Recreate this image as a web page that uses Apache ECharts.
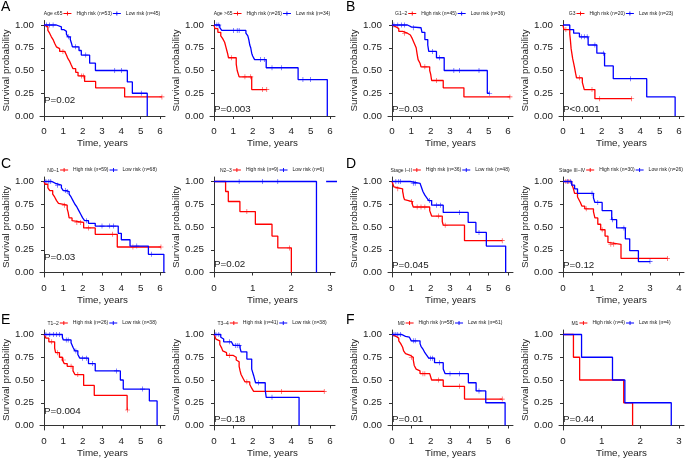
<!DOCTYPE html>
<html>
<head>
<meta charset="utf-8">
<script src="https://cdn.jsdelivr.net/npm/echarts@6/dist/echarts.min.js"></script>
<style>
  html, body { margin: 0; padding: 0; background: #fff; }
  #main { width: 692px; height: 461px; }
</style>
</head>
<body>
<div id="main"></div>
<script>
// ---- data: KM step curves [time, survival] and censor times ----
// A: age
const ageLeHigh = [[0,1],[0.1,0.98],[0.2,0.94],[0.29,0.91],[0.38,0.87],[0.47,0.84],[0.55,0.8],[0.64,0.76],[0.72,0.74],[0.81,0.71],[1.07,0.69],[1.16,0.67],[1.24,0.63],[1.33,0.6],[1.41,0.56],[1.5,0.52],[1.64,0.48],[1.76,0.44],[2.1,0.38],[2.67,0.31],[4.17,0.21]];
const ageLeHighCens = [0.98,1.93,2.03,6.1];
const ageLeLow = [[0,1],[0.64,0.98],[0.9,0.95],[1.02,0.93],[1.16,0.9],[1.24,0.87],[1.36,0.84],[1.42,0.8],[1.47,0.76],[1.81,0.72],[1.93,0.67],[2.36,0.58],[2.66,0.5],[4.31,0.375],[4.57,0.25],[5.34,0]];
const ageLeLowCens = [0.12,0.29,0.47,1.28,1.64,2.16,3.66,4.0,5.03];
const ageGtHigh = [[0,1],[0.05,0.96],[0.2,0.92],[0.35,0.88],[0.45,0.85],[0.55,0.81],[0.6,0.77],[0.7,0.69],[0.75,0.64],[1.15,0.57],[1.2,0.5],[1.3,0.43],[1.95,0.29]];
const ageGtHighCens = [0.9,1.6,1.9,2.5,2.73];
const ageGtLow = [[0,1],[0.3,0.97],[0.4,0.94],[1.65,0.91],[1.75,0.88],[1.8,0.84],[1.85,0.78],[1.9,0.75],[1.95,0.69],[2.0,0.66],[2.1,0.62],[2.7,0.53],[4.35,0.4],[5.86,0]];
const ageGtLowCens = [0.15,0.25,1.0,1.2,1.3,2.4,2.6,3.0,3.5,4.6,5.0];
// B: grade
const g12High = [[0,1],[0.1,0.98],[0.2,0.96],[0.35,0.93],[0.55,0.91],[0.8,0.89],[0.95,0.87],[1.05,0.85],[1.15,0.8],[1.25,0.75],[1.3,0.68],[1.35,0.62],[1.45,0.58],[1.5,0.54],[1.95,0.5],[2.0,0.46],[2.05,0.39],[2.65,0.31],[3.72,0.21]];
const g12HighCens = [0.65,1.7,2.3,6.1];
const g12Low = [[0,1],[0.8,0.98],[1.0,0.97],[1.5,0.95],[1.55,0.92],[1.7,0.84],[1.85,0.78],[1.9,0.71],[2.3,0.64],[2.7,0.5],[4.93,0.25]];
const g12LowCens = [0.1,0.3,0.5,0.65,1.1,2.1,2.45,3.2,3.5,4.5,5.05];
const g3High = [[0,1],[0.05,0.95],[0.35,0.9],[0.38,0.84],[0.42,0.74],[0.5,0.63],[0.55,0.58],[0.6,0.53],[0.65,0.47],[0.7,0.42],[1.0,0.37],[1.1,0.29],[1.65,0.19]];
const g3HighCens = [0.15,0.85,1.5,1.9,3.55];
const g3Low = [[0,1],[0.35,0.95],[0.55,0.91],[0.85,0.87],[1.3,0.78],[1.75,0.69],[2.15,0.55],[2.6,0.41],[4.33,0.21],[5.8,0]];
const g3LowCens = [0.95,1.1,1.25,1.65,2.1,3.5];
// C: N stage
const n01High = [[0,1],[0.05,0.97],[0.2,0.93],[0.3,0.9],[0.45,0.86],[0.55,0.83],[0.65,0.79],[0.75,0.76],[0.85,0.74],[1.2,0.7],[1.25,0.66],[1.3,0.6],[1.45,0.57],[1.5,0.55],[2.05,0.49],[2.65,0.42],[3.79,0.28]];
const n01HighCens = [1.05,1.7,1.9,2.3,3.55,4.6,6.05];
const n01Low = [[0,1],[0.4,0.98],[0.6,0.96],[0.9,0.93],[1.0,0.9],[1.15,0.89],[1.3,0.86],[1.4,0.83],[1.5,0.79],[1.6,0.75],[1.7,0.72],[1.8,0.68],[1.9,0.64],[2.0,0.6],[2.1,0.57],[2.3,0.54],[2.65,0.51],[3.84,0.43],[4.0,0.36],[4.45,0.29],[5.4,0.2],[6.2,0]];
const n01LowCens = [0.1,0.25,0.35,0.7,1.1,1.2,2.2,3.0,3.4,3.6,4.8,5.57];
const n23High = [[0,1],[0.3,0.89],[0.37,0.78],[0.67,0.67],[1.07,0.53],[1.5,0.4],[1.65,0.27],[2.0,0]];
const n23HighCens = [0.85,1.95];
const n23Low = [[0,1],[2.65,0]];
const n23LowCens = [0.65,1.25,1.65];
const n23LowTail = [[2.9,1],[3.2,1]];   // stray low-risk segment right of the panel
// D: stage
const st12High = [[0,1],[0.05,0.97],[0.1,0.94],[0.15,0.92],[0.55,0.89],[0.58,0.86],[0.6,0.83],[0.65,0.8],[0.75,0.78],[1.05,0.75],[1.1,0.72],[1.95,0.68],[2.05,0.62],[2.6,0.56],[2.65,0.52],[3.75,0.35]];
const st12HighCens = [0.3,1.0,1.3,1.5,1.7,2.4,2.75,5.7];
const st12Low = [[0,1],[0.95,0.98],[1.45,0.97],[1.5,0.95],[1.6,0.89],[1.7,0.85],[1.8,0.82],[1.9,0.79],[2.05,0.74],[2.65,0.66],[3.94,0.55],[4.34,0.44],[4.88,0.29],[5.88,0]];
const st12LowCens = [0.2,0.35,0.45,1.1,1.2,1.95,2.3,2.5,3.5,4.5];
const st34High = [[0,1],[0.3,0.97],[0.35,0.93],[0.4,0.87],[0.5,0.83],[0.55,0.8],[0.6,0.77],[0.65,0.73],[0.75,0.7],[1.05,0.67],[1.1,0.6],[1.2,0.53],[1.3,0.47],[1.45,0.4],[1.55,0.33],[1.6,0.31],[2.0,0.155]];
const st34HighCens = [0.1,0.2,0.8,1.35,1.65,1.75,3.6];
const st34Low = [[0,1],[0.3,0.96],[0.4,0.92],[0.5,0.87],[1.05,0.82],[1.1,0.77],[1.35,0.68],[1.68,0.58],[1.85,0.49],[2.15,0.37],[2.3,0.24],[2.6,0.12]];
const st34LowCens = [0.15,0.25,1.0,1.2,1.7,2.1,3.0];
// E: T stage
const t12High = [[0,1],[0.1,0.96],[0.25,0.92],[0.55,0.85],[0.6,0.8],[0.8,0.75],[0.95,0.72],[1.05,0.68],[1.2,0.65],[1.5,0.6],[1.6,0.56],[2.05,0.44],[2.6,0.33],[4.3,0.17]];
const t12HighCens = [0.4,0.7,1.0,1.4,1.75,4.32];
const t12Low = [[0,1],[0.95,0.97],[1.0,0.94],[1.4,0.91],[1.5,0.86],[1.6,0.82],[1.75,0.78],[1.85,0.74],[2.3,0.68],[2.65,0.6],[3.95,0.5],[4.1,0.4],[5.45,0.27],[5.85,0]];
const t12LowCens = [0.1,0.3,0.5,0.65,0.8,1.15,1.25,1.65,2.0,2.2,2.5,3.75,5.1];
const t34High = [[0,1],[0.05,0.98],[0.1,0.95],[0.2,0.93],[0.3,0.89],[0.4,0.85],[0.45,0.82],[0.55,0.8],[0.65,0.77],[1.0,0.75],[1.15,0.72],[1.2,0.7],[1.3,0.65],[1.35,0.6],[1.4,0.56],[1.5,0.52],[1.6,0.48],[1.85,0.45],[1.95,0.41],[2.05,0.375]];
const t34HighCens = [0.8,1.7,3.5,5.7];
const t34Low = [[0,1],[0.35,0.97],[0.4,0.95],[0.5,0.92],[0.9,0.9],[1.0,0.88],[1.35,0.85],[1.4,0.81],[1.7,0.73],[1.95,0.62],[2.05,0.55],[2.15,0.47],[2.65,0.39],[2.7,0.31],[4.4,0]];
const t34LowCens = [0.1,0.25,0.8,1.1,1.2,1.3,2.3,3.0];
// F: M stage
const m0High = [[0,1],[0.05,0.98],[0.2,0.96],[0.35,0.93],[0.45,0.9],[0.55,0.86],[0.6,0.82],[0.7,0.79],[0.8,0.77],[0.95,0.75],[1.1,0.72],[1.15,0.66],[1.25,0.62],[1.35,0.6],[1.45,0.57],[1.95,0.55],[2.05,0.5],[2.65,0.43],[3.75,0.29]];
const m0HighCens = [1.0,1.6,1.7,2.4,3.5,5.7];
const m0Low = [[0,1],[0.5,0.98],[0.7,0.97],[0.9,0.95],[1.0,0.93],[1.45,0.9],[1.5,0.87],[1.6,0.84],[1.7,0.8],[1.8,0.77],[1.9,0.74],[2.2,0.69],[2.65,0.62],[2.75,0.57],[3.95,0.47],[4.35,0.38],[4.85,0.25],[5.85,0]];
const m0LowCens = [0.1,0.2,0.3,0.45,1.1,1.2,2.0,2.1,2.45,3.0,3.5,4.5];
const m1High = [[0,1],[0.27,0.75],[0.43,0.5],[1.57,0.25],[1.8,0]];
const m1HighCens = [];
const m1Low = [[0,1],[0.48,0.75],[1.28,0.5],[1.6,0.25],[2.8,0]];
const m1LowCens = [];

const yTicks = [0, 0.25, 0.5, 0.75, 1];

const panels = [
  {row:0, col:0, group:'Age \u226465', nHigh:53, nLow:45, p:'P=0.02',  xMax:6, pDy:76, high:ageLeHigh, highCens:ageLeHighCens, low:ageLeLow, lowCens:ageLeLowCens},
  {row:0, col:1, group:'Age >65',      nHigh:26, nLow:34, p:'P=0.003', xMax:6, pDy:85, high:ageGtHigh, highCens:ageGtHighCens, low:ageGtLow, lowCens:ageGtLowCens},
  {row:0, col:2, group:'G1\u20132',    nHigh:45, nLow:36, p:'P=0.03',  xMax:6, pDy:85, high:g12High, highCens:g12HighCens, low:g12Low, lowCens:g12LowCens},
  {row:0, col:3, group:'G3',           nHigh:20, nLow:23, p:'P<0.001', xMax:6, pDy:85, high:g3High, highCens:g3HighCens, low:g3Low, lowCens:g3LowCens},
  {row:1, col:0, group:'N0\u20131',    nHigh:59, nLow:68, p:'P=0.03',  xMax:6, pDy:77, high:n01High, highCens:n01HighCens, low:n01Low, lowCens:n01LowCens},
  {row:1, col:1, group:'N2\u20133',    nHigh:9,  nLow:6,  p:'P=0.02',  xMax:3, pDy:84, high:n23High, highCens:n23HighCens, low:n23Low, lowCens:n23LowCens, lowTail:n23LowTail},
  {row:1, col:2, group:'Stage I\u2013II',  nHigh:36, nLow:48, p:'P=0.045', xMax:6, pDy:85, high:st12High, highCens:st12HighCens, low:st12Low, lowCens:st12LowCens},
  {row:1, col:3, group:'Stage III\u2013IV',nHigh:30, nLow:26, p:'P=0.12',  xMax:4, pDy:85, high:st34High, highCens:st34HighCens, low:st34Low, lowCens:st34LowCens},
  {row:2, col:0, group:'T1\u20132',    nHigh:26, nLow:38, p:'P=0.004', xMax:6, pDy:78, high:t12High, highCens:t12HighCens, low:t12Low, lowCens:t12LowCens},
  {row:2, col:1, group:'T3\u20134',    nHigh:41, nLow:38, p:'P=0.18',  xMax:6, pDy:86, high:t34High, highCens:t34HighCens, low:t34Low, lowCens:t34LowCens},
  {row:2, col:2, group:'M0',           nHigh:58, nLow:61, p:'P=0.01',  xMax:6, pDy:86, high:m0High, highCens:m0HighCens, low:m0Low, lowCens:m0LowCens},
  {row:2, col:3, group:'M1',           nHigh:4,  nLow:4,  p:'P=0.44',  xMax:3, pDy:86, high:m1High, highCens:m1HighCens, low:m1Low, lowCens:m1LowCens}
];

// ---- layout ----
const FONT = '"Liberation Sans", Arial, sans-serif';
const RED = '#ff0000', BLUE = '#0000ff', INK = '#222';
const colX = [44, 214, 392, 563];     // pixel of t = 0
const rowY = [25, 181.5, 334.5];      // pixel of S = 1
const plotW = 116, plotH = 91;        // 0..xMax and 0..1 spans
const padL = 4, padR = 5, padY = 4.5; // panel expansion (px) where the axis lines sit
const letterPos = [[1, 0], [346, 0], [1, 157], [346, 157], [1, 313], [346, 313]];
const PLUS = 'path://M-0.6,-5H0.6V-0.6H5V0.6H0.6V5H-0.6V0.6H-5V-0.6H-0.6Z';
const KEY = 'path://M0,2.05H8V2.95H0ZM3.55,0.5H4.45V4.5H3.55Z';
const legFont = 5;

const ctx = document.createElement('canvas').getContext('2d');
function textW(s, size) {
  ctx.font = size + 'px "Liberation Sans"';
  return ctx.measureText(s).width;
}

function survAt(steps, t) {
  let s = steps[0][1];
  steps.forEach(function (p) { if (p[0] <= t) s = p[1]; });
  return s;
}
function curve(steps, cens) {
  const last = steps[steps.length - 1];
  const end = Math.max.apply(null, [last[0]].concat(cens));
  const out = steps.slice();
  if (end > last[0]) out.push([end, last[1]]);
  return out;
}
function range(n) { const a = []; for (let k = 0; k <= n; k++) a.push(k); return a; }

const grid = [], xAxis = [], yAxis = [], series = [], legend = [], title = [], graphic = [];

panels.forEach(function (pn, i) {
  const gx = colX[pn.col], gy = rowY[pn.row];
  const hiName = 'High risk (n=' + pn.nHigh + ')';
  const loName = 'Low risk (n=' + pn.nLow + ')';
  const perPx = pn.xMax / plotW, dy = padY / plotH;
  const xTicks = range(pn.xMax);

  grid.push({left: gx - padL, top: gy - padY, width: plotW + padL + padR, height: plotH + 2 * padY,
    containLabel: false});

  xAxis.push({
    gridIndex: i, type: 'value', min: -padL * perPx, max: pn.xMax + padR * perPx,
    axisLine: {lineStyle: {color: '#333', width: 1}},
    axisTick: {length: 3, lineStyle: {color: '#333'}, customValues: xTicks},
    axisLabel: {fontSize: 9.8, color: INK, margin: 6, fontFamily: FONT, customValues: xTicks},
    splitLine: {show: false},
    name: 'Time, years', nameLocation: 'middle', nameGap: 18,
    nameTextStyle: {fontSize: 9.8, color: INK, fontFamily: FONT}
  });
  yAxis.push({
    gridIndex: i, type: 'value', min: -dy, max: 1 + dy,
    axisLine: {show: true, lineStyle: {color: '#333', width: 1}},
    axisTick: {show: true, length: 3, lineStyle: {color: '#333'}, customValues: yTicks},
    axisLabel: {fontSize: 9.8, color: INK, margin: 6, fontFamily: FONT, customValues: yTicks,
      formatter: function (v) { return v.toFixed(2); }},
    splitLine: {show: false},
    name: 'Survival probability', nameLocation: 'middle', nameGap: 27,
    nameTextStyle: {fontSize: 9.8, color: INK, fontFamily: FONT}
  });

  [[hiName, pn.high, pn.highCens, RED], [loName, pn.low, pn.lowCens, BLUE]].forEach(function (g) {
    series.push({
      type: 'line', name: g[0], xAxisIndex: i, yAxisIndex: i, step: 'end',
      symbol: 'none', data: curve(g[1], g[2]),
      lineStyle: {color: g[3], width: 1.3}, itemStyle: {color: g[3]}
    });
    series.push({
      type: 'scatter', xAxisIndex: i, yAxisIndex: i, symbol: PLUS, symbolSize: 5,
      itemStyle: {color: g[3]},
      data: g[2].map(function (t) { return [t, survAt(g[1], t)]; })
    });
  });
  if (pn.lowTail) {
    series.push({
      type: 'line', xAxisIndex: i, yAxisIndex: i, symbol: 'none', clip: false,
      data: pn.lowTail, lineStyle: {color: BLUE, width: 1.3}
    });
  }

  // strata label + legend, centred over the panel
  const wLab = textW(pn.group, legFont);
  const wHi = textW(hiName, legFont), wLo = textW(loName, legFont);
  const total = wLab + 1 + (8 + 5 + wHi) + 1 + (8 + 5 + wLo);
  const lx = gx + plotW / 2 - total / 2;
  title.push({text: pn.group, left: lx, top: gy - 13.5, padding: 0,
    textStyle: {fontSize: legFont, fontWeight: 'normal', color: INK, fontFamily: FONT}});
  legend.push({
    left: lx + wLab + 1, top: gy - 14, padding: 0, itemGap: 1, itemWidth: 8, itemHeight: 5,
    selectedMode: false,
    textStyle: {fontSize: legFont, color: INK, fontFamily: FONT},
    data: [{name: hiName, icon: KEY, itemStyle: {color: RED}}, {name: loName, icon: KEY, itemStyle: {color: BLUE}}]
  });

  graphic.push({type: 'text', left: gx, top: gy + pn.pDy - 6,
    style: {text: pn.p, fill: INK, font: '9.8px ' + FONT}});
});

'ABCDEF'.split('').forEach(function (L, k) {
  graphic.push({type: 'text', left: letterPos[k][0], top: letterPos[k][1],
    style: {text: L, fill: '#000', font: '14px ' + FONT}});
});

const chart = echarts.init(document.getElementById('main'), null, {renderer: 'canvas'});
chart.setOption({
  animation: false,
  backgroundColor: '#fff',
  textStyle: {fontFamily: FONT},
  grid: grid, xAxis: xAxis, yAxis: yAxis,
  series: series, legend: legend, title: title, graphic: graphic
});
</script>
</body>
</html>
